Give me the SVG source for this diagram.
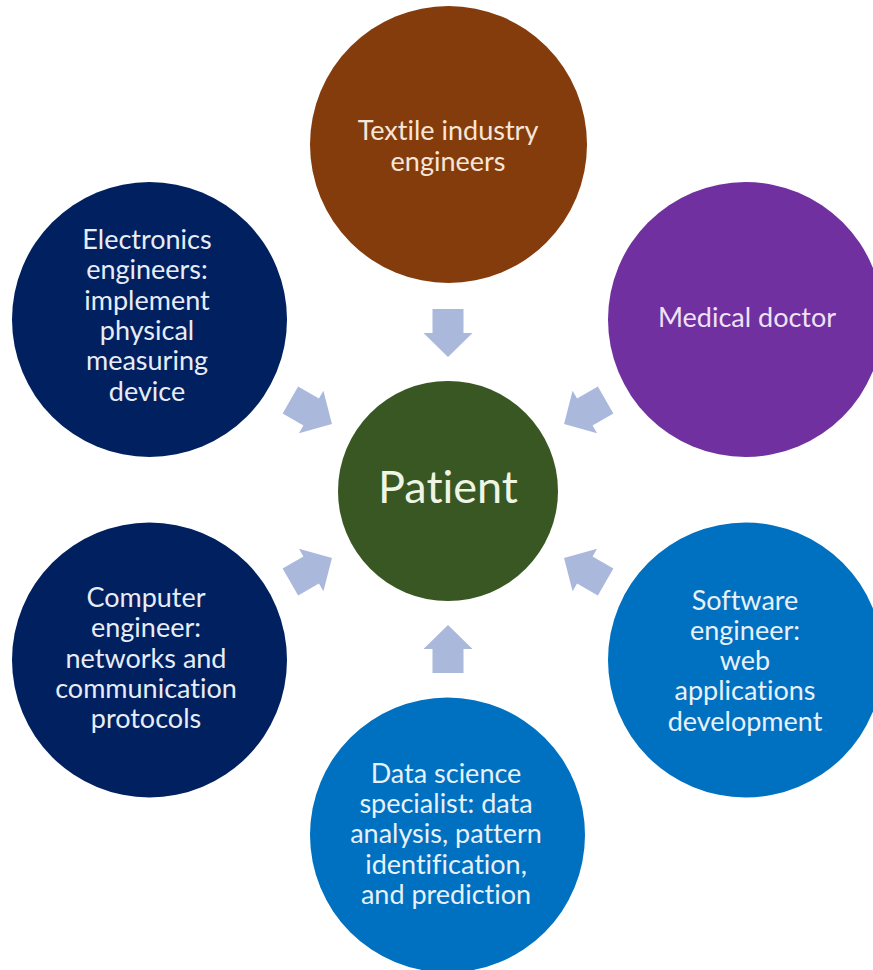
<svg xmlns="http://www.w3.org/2000/svg" width="873" height="970" viewBox="0 0 873 970">
  <defs>
    <!-- block arrow pointing toward the origin, tip 134px out along +x -->
    <polygon id="inArrow" points="134,0 158,-24.5 158,-15.5 182,-15.5 182,15.5 158,15.5 158,24.5"/>
  </defs>
  <style>
    .lbl { font-family: Lato, "Open Sans", "Liberation Sans", sans-serif; font-size: 27px; text-anchor: middle; font-variant-ligatures: none; }
    .big { font-size: 45px; }
    .arrow { fill: #AAB8DC; }
  </style>
  <rect width="873" height="970" fill="#FFFFFF"/>

  <!-- connectors: block arrows converging on the centre -->
  <g id="connectors" transform="translate(448 491)">
    <use href="#inArrow" class="arrow" transform="rotate(-90)"/>
    <use href="#inArrow" class="arrow" transform="rotate(90)"/>
    <use href="#inArrow" class="arrow" transform="rotate(-150)"/>
    <use href="#inArrow" class="arrow" transform="rotate(150)"/>
    <use href="#inArrow" class="arrow" transform="rotate(-30)"/>
    <use href="#inArrow" class="arrow" transform="rotate(30)"/>
  </g>

  <g id="textile">
    <circle cx="448.5" cy="144.5" r="138.5" fill="#843C0C"/>
    <text class="lbl" fill="#F7E6D8" x="448" y="140">Textile industry</text>
    <text class="lbl" fill="#F7E6D8" x="448" y="171">engineers</text>
  </g>

  <g id="medical">
    <circle cx="745.5" cy="319.5" r="137.5" fill="#7030A0"/>
    <text class="lbl" fill="#EFE2F7" x="747" y="327">Medical doctor</text>
  </g>

  <g id="electronics">
    <circle cx="149.5" cy="319.5" r="137.5" fill="#002060"/>
    <text class="lbl" fill="#E8ECF6" x="147" y="249">Electronics</text>
    <text class="lbl" fill="#E8ECF6" x="147" y="279">engineers:</text>
    <text class="lbl" fill="#E8ECF6" x="147" y="310">implement</text>
    <text class="lbl" fill="#E8ECF6" x="147" y="340">physical</text>
    <text class="lbl" fill="#E8ECF6" x="147" y="370">measuring</text>
    <text class="lbl" fill="#E8ECF6" x="147" y="401">device</text>
  </g>

  <g id="patient">
    <circle cx="448" cy="491" r="110" fill="#385723"/>
    <text class="lbl big" fill="#EEF5E4" x="448" y="503">Patient</text>
  </g>

  <g id="computer">
    <circle cx="149.5" cy="660" r="137.5" fill="#002060"/>
    <text class="lbl" fill="#E8ECF6" x="146" y="607">Computer</text>
    <text class="lbl" fill="#E8ECF6" x="146" y="637">engineer:</text>
    <text class="lbl" fill="#E8ECF6" x="146" y="668">networks and</text>
    <text class="lbl" fill="#E8ECF6" x="146" y="698">communication</text>
    <text class="lbl" fill="#E8ECF6" x="146" y="728">protocols</text>
  </g>

  <g id="software">
    <circle cx="745.5" cy="660" r="137.5" fill="#0070C0"/>
    <text class="lbl" fill="#E8F1FA" x="745" y="610">Software</text>
    <text class="lbl" fill="#E8F1FA" x="745" y="640">engineer:</text>
    <text class="lbl" fill="#E8F1FA" x="745" y="670">web</text>
    <text class="lbl" fill="#E8F1FA" x="745" y="700">applications</text>
    <text class="lbl" fill="#E8F1FA" x="745" y="731">development</text>
  </g>

  <g id="datascience">
    <circle cx="447.5" cy="835" r="137.5" fill="#0070C0"/>
    <text class="lbl" fill="#E8F1FA" x="446" y="783">Data science</text>
    <text class="lbl" fill="#E8F1FA" x="446" y="813">specialist: data</text>
    <text class="lbl" fill="#E8F1FA" x="446" y="843">analysis, pattern</text>
    <text class="lbl" fill="#E8F1FA" x="446" y="874">identification,</text>
    <text class="lbl" fill="#E8F1FA" x="446" y="904">and prediction</text>
  </g>
</svg>
